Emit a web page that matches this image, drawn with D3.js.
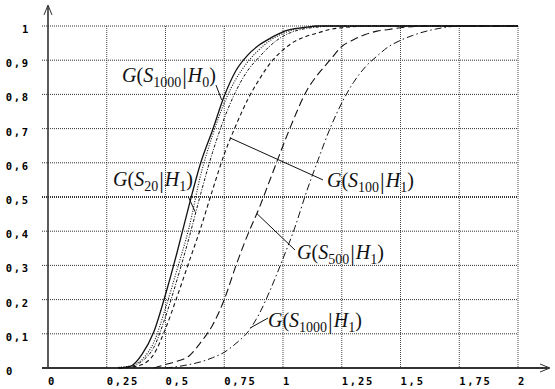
<!DOCTYPE html>
<html>
<head>
<meta charset="utf-8">
<script src="https://cdn.jsdelivr.net/npm/d3@7"></script>
<style>
    body { margin: 0; background: #fff; }
    svg { display: block; }
    .tick-label { font-family: "DejaVu Sans Mono", monospace; font-weight: bold; font-size: 10.5px; letter-spacing: 1.8px; fill: #000; }
    .label { font-family: "Liberation Serif", "Times New Roman", serif; font-size: 20px; fill: #111; }
</style>
</head>
<body>
<svg></svg>
<script>
const xTicks = [0, 0.25, 0.5, 0.75, 1, 1.25, 1.5, 1.75, 2]
const xTickLabels = ["0", "0,25", "0,5", "0,75", "1", "1,25", "1,5", "1,75", "2"]
const yTicks = [0, 0.1, 0.2, 0.3, 0.4, 0.5, 0.6, 0.7, 0.8, 0.9, 1]
const yTickLabels = ["0", "0,1", "0,2", "0,3", "0,4", "0,5", "0,6", "0,7", "0,8", "0,9", "1"]

// gemeenschappelijke x-waarden voor alle curves
const xGrid = [0.25, 0.30, 0.35, 0.40, 0.45, 0.50, 0.55, 0.60, 0.65, 0.70, 0.75, 0.80, 0.85, 0.90, 0.95, 1.00,
    1.05, 1.10, 1.15, 1.20, 1.25, 1.30, 1.35, 1.40, 1.45, 1.50, 1.55, 1.60, 1.65, 1.70, 1.75, 2.00]

const gS1000H0 = [null, 0, 0.005, 0.04, 0.105, 0.215, 0.34, 0.475, 0.60, 0.695, 0.795, 0.87, 0.915, 0.945, 0.966, 0.983,
    0.992, 0.997, 1, 1, 1, 1, 1, 1, 1, 1, 1, 1, 1, 1, 1, 1]
const gS20H1 = [null, 0.002, 0.006, 0.025, 0.075, 0.175, 0.29, 0.41, 0.565, 0.68, 0.775, 0.845, 0.895, 0.932, 0.96, 0.978,
    0.99, 0.996, 1, 1, 1, 1, 1, 1, 1, 1, 1, 1, 1, 1, 1, 1]
const gS50H1 = [null, 0.001, 0.004, 0.02, 0.06, 0.15, 0.26, 0.38, 0.51, 0.63, 0.73, 0.81, 0.87, 0.91, 0.945, 0.97,
    0.985, 0.993, 0.997, 1, 1, 1, 1, 1, 1, 1, 1, 1, 1, 1, 1, 1]
const gS100H1 = [null, 0, 0.002, 0.01, 0.04, 0.115, 0.21, 0.31, 0.41, 0.52, 0.625, 0.71, 0.785, 0.845, 0.895, 0.93,
    0.955, 0.97, 0.98, 0.99, 0.995, 0.998, 1, 1, 1, 1, 1, 1, 1, 1, 1, 1]
const gS500H1 = [null, null, null, null, 0, 0.01, 0.02, 0.035, 0.075, 0.125, 0.20, 0.30, 0.39, 0.47, 0.56, 0.65,
    0.735, 0.81, 0.86, 0.90, 0.94, 0.96, 0.975, 0.985, 0.99, 0.995, 0.998, 1, 1, 1, 1, 1]
const gS1000H1 = [null, null, null, null, null, 0, 0.004, 0.01, 0.018, 0.03, 0.046, 0.072, 0.105, 0.16, 0.235, 0.32,
    0.41, 0.515, 0.61, 0.70, 0.775, 0.835, 0.88, 0.912, 0.94, 0.958, 0.972, 0.983, 0.991, 0.997, 1, 1]

const reeksen = [
    { naam: "S1000H0", waarden: gS1000H0, dash: null, breedte: 1.3 },
    { naam: "S20H1", waarden: gS20H1, dash: "1,1.5", breedte: 1.1 },
    { naam: "S50H1", waarden: gS50H1, dash: "3,1.5,1,1.5", breedte: 1 },
    { naam: "S100H1", waarden: gS100H1, dash: "4,3", breedte: 1.1 },
    { naam: "S500H1", waarden: gS500H1, dash: "8,4", breedte: 1.1 },
    { naam: "S1000H1", waarden: gS1000H1, dash: "7,3,1.5,3", breedte: 1 }
]

// labels: tekstpositie, punt op de curve en einde van de leiderlijn, in data-eenheden
const labels = [
    { s: "1000", h: "0", tx: 0.315, ty: 0.835, cx: 0.739, cy: 0.784, lx: 0.715, ly: 0.827 },
    { s: "20", h: "1", tx: 0.277, ty: 0.532, cx: 0.626, cy: 0.457, lx: 0.597, ly: 0.501 },
    { s: "100", h: "1", tx: 1.187, ty: 0.528, cx: 0.774, cy: 0.673, lx: 1.17, ly: 0.55 },
    { s: "500", h: "1", tx: 1.06, ty: 0.319, cx: 0.888, cy: 0.452, lx: 1.051, ly: 0.345 },
    { s: "1000", h: "1", tx: 0.936, ty: 0.12, cx: 0.86, cy: 0.117, lx: 0.936, ly: 0.146 }
]

const width = 555
const height = 389
const svg = d3.select('svg')
    .attr("width", width)
    .attr("height", height)

const x = d3.scaleLinear().domain([0, 2]).range([48, 518])
const y = d3.scaleLinear().domain([0, 1]).range([368, 26])

// raster
svg.append("g").selectAll("line")
    .data(xTicks.filter(d => d > 0))
    .enter().append("line")
    .attr("x1", d => x(d)).attr("x2", d => x(d))
    .attr("y1", y(1)).attr("y2", y(0))
    .attr("stroke", "#444").attr("stroke-width", 1).attr("stroke-dasharray", "1,1")

svg.append("g").selectAll("line")
    .data(yTicks.filter(d => d > 0))
    .enter().append("line")
    .attr("x1", x(0) - 6).attr("x2", x(2))
    .attr("y1", d => y(d)).attr("y2", d => y(d))
    .attr("stroke", "#333").attr("stroke-width", d => d === 0.5 ? 2 : 1).attr("stroke-dasharray", "1,1")

// assen
svg.append("line")
    .attr("x1", x(0)).attr("x2", x(0))
    .attr("y1", 6).attr("y2", y(0))
    .attr("stroke", "#333").attr("stroke-width", 1.6)
svg.append("path")
    .attr("d", `M${x(0) - 4},15 L${x(0)},5 L${x(0) + 4},15`)
    .attr("fill", "none").attr("stroke", "#333").attr("stroke-width", 1)

svg.append("line")
    .attr("x1", x(0) - 6).attr("x2", 549)
    .attr("y1", y(0)).attr("y2", y(0))
    .attr("stroke", "#333").attr("stroke-width", 2)
svg.append("path")
    .attr("d", `M540,${y(0) - 4} L550,${y(0)} L540,${y(0) + 4}`)
    .attr("fill", "none").attr("stroke", "#333").attr("stroke-width", 1)

// tick labels
svg.append("g").selectAll("text")
    .data(xTicks)
    .enter().append("text")
    .attr("class", "tick-label")
    .attr("x", d => x(d))
    .attr("y", 385)
    .text((d, i) => xTickLabels[i])

svg.append("g").selectAll("text")
    .data(yTicks)
    .enter().append("text")
    .attr("class", "tick-label")
    .attr("x", d => d === 0 ? 6 : 30)
    .attr("text-anchor", d => d === 0 ? "start" : "end")
    .attr("y", d => y(d) + 7)
    .text((d, i) => yTickLabels[i])

// curves
const lijn = d3.line()
    .defined(d => d[1] !== null)
    .x(d => x(d[0]))
    .y(d => y(d[1]))
    .curve(d3.curveMonotoneX)

svg.append("g").selectAll("path")
    .data(reeksen)
    .enter().append("path")
    .attr("d", d => lijn(xGrid.map((v, i) => [v, d.waarden[i]])))
    .attr("fill", "none")
    .attr("stroke", "#111")
    .attr("stroke-width", d => d.breedte)
    .attr("stroke-dasharray", d => d.dash)

// labels met leiderlijnen
svg.append("g").selectAll("line")
    .data(labels)
    .enter().append("line")
    .attr("x1", d => x(d.cx)).attr("y1", d => y(d.cy))
    .attr("x2", d => x(d.lx)).attr("y2", d => y(d.ly))
    .attr("stroke", "#111").attr("stroke-width", 1)

const tekst = svg.append("g").selectAll("text")
    .data(labels)
    .enter().append("text")
    .attr("class", "label")
    .attr("x", d => x(d.tx))
    .attr("y", d => y(d.ty))

tekst.append("tspan").attr("font-style", "italic").text("G")
tekst.append("tspan").text("(")
tekst.append("tspan").attr("font-style", "italic").text("S")
tekst.append("tspan").attr("font-size", "14px").attr("dy", 5).text(d => d.s)
tekst.append("tspan").attr("font-size", "23px").attr("dy", -3).attr("dx", 1).text("|")
tekst.append("tspan").attr("font-style", "italic").attr("dy", -2).attr("dx", 1).text("H")
tekst.append("tspan").attr("font-size", "14px").attr("dy", 5).text(d => d.h)
tekst.append("tspan").attr("dy", -5).text(")")
</script>
</body>
</html>
